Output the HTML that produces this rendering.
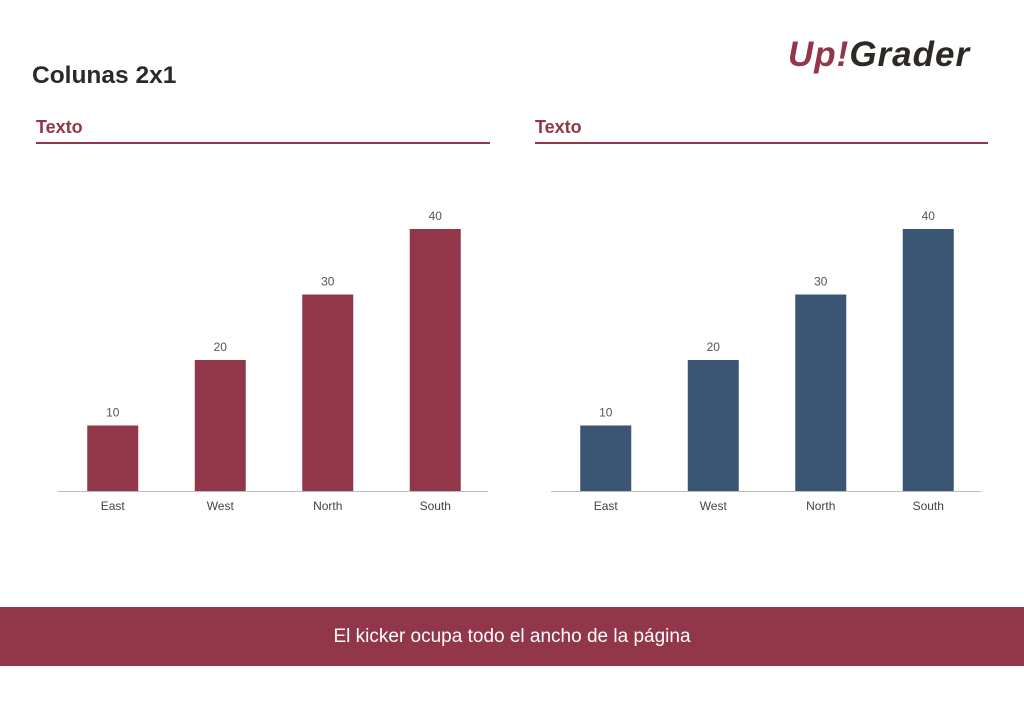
<!DOCTYPE html>
<html><head><meta charset="utf-8"><style>
body{margin:0;width:1024px;height:724px;background:#fff;font-family:"Liberation Sans",sans-serif;position:relative;overflow:hidden}
.abs{position:absolute}
</style></head><body>
<div class="abs" style="left:32px;top:62px;font-size:24.5px;font-weight:bold;color:#2d2a26">Colunas 2x1</div>
<div class="abs" style="left:788px;top:35px;font-size:35px;font-weight:bold;font-style:italic;letter-spacing:1px"><span style="color:#92364a">Up!</span><span style="color:#2d2a26">Grader</span></div>
<div class="abs" style="left:36px;top:117px;font-size:18px;font-weight:bold;color:#92364a">Texto</div>
<div class="abs" style="left:36px;top:142px;width:454px;height:2px;background:#92364a"></div>
<div class="abs" style="left:535px;top:117px;font-size:18px;font-weight:bold;color:#92364a">Texto</div>
<div class="abs" style="left:535px;top:142px;width:453px;height:2px;background:#92364a"></div>
<svg class="abs" style="left:0;top:0" width="1024" height="724" id="charts"></svg>
<div class="abs" style="left:0;top:607px;width:1024px;height:59px;background:#92364a;color:#fff;font-size:19px;text-align:center;line-height:59px">El kicker ocupa todo el ancho de la página</div>
<script>
const categories=["East","West","North","South"];
const leftValues=[10,20,30,40];
const rightValues=[10,20,30,40];
const NS="http://www.w3.org/2000/svg";
const svg=document.getElementById('charts');
function draw(x0,x1,values,color,prefix){
  const base=491,scale=262/40,step=(x1-x0)/categories.length,bw=51;
  const ax=document.createElementNS(NS,'line');
  
  
  ax.setAttribute('x1',x0);ax.setAttribute('x2',x1);ax.setAttribute('y1',base+0.5);ax.setAttribute('y2',base+0.5);
  ax.setAttribute('stroke','#bbb');svg.appendChild(ax);
  categories.forEach((c,i)=>{
    const cx=x0+1+step*(i+0.5),h=values[i]*scale;
    const r=document.createElementNS(NS,'rect');
    
    
    r.setAttribute('x',cx-bw/2);r.setAttribute('y',base-h);r.setAttribute('width',bw);r.setAttribute('height',h);r.setAttribute('fill',color);
    svg.appendChild(r);
    const v=document.createElementNS(NS,'text');
    
    
    v.setAttribute('x',cx);v.setAttribute('y',base-h-9);v.setAttribute('text-anchor','middle');v.setAttribute('font-size','12');v.setAttribute('fill','#555');
    v.textContent=values[i];svg.appendChild(v);
    const t=document.createElementNS(NS,'text');
    
    
    t.setAttribute('x',cx);t.setAttribute('y',510);t.setAttribute('text-anchor','middle');t.setAttribute('font-size','12');t.setAttribute('fill','#444');
    t.textContent=c;svg.appendChild(t);
  });
}
draw(58,488,leftValues,'#92364a','left');
draw(551,981,rightValues,'#3a5674','right');
</script>
</body></html>
